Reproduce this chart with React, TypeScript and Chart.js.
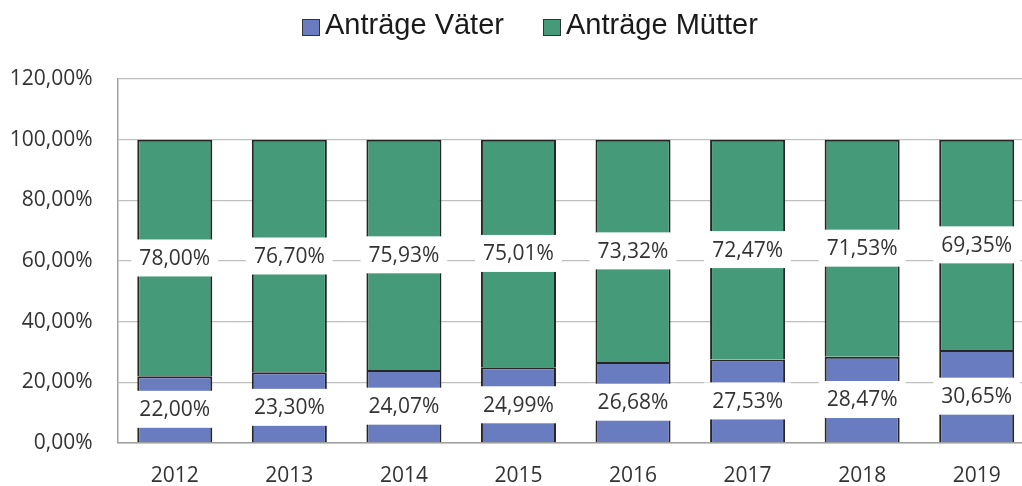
import React, { useEffect, useRef } from "react";
import { Chart, registerables } from "chart.js";

Chart.register(...registerables);

const years = ["2012", "2013", "2014", "2015", "2016", "2017", "2018", "2019"];
const vaeter = [22.0, 23.3, 24.07, 24.99, 26.68, 27.53, 28.47, 30.65];
const muetter = [78.0, 76.7, 75.93, 75.01, 73.32, 72.47, 71.53, 69.35];
const yTickValues = [0, 20, 40, 60, 80, 100, 120];
const seriesNames = ["Anträge Väter", "Anträge Mütter"];
const seriesColors = ["#6a7cc0", "#449a79"];

const fmt = (v: number) => v.toFixed(2).replace(".", ",") + "%";

const FONT = '"Open Sans", "DejaVu Sans", sans-serif';
const TEXT = "#333333";

const boxLabels = {
  id: "boxLabels",
  afterDatasetsDraw(chart: any) {
    const ctx = chart.ctx;
    ctx.save();
    ctx.font = `21px ${FONT}`;
    ctx.textAlign = "center";
    ctx.textBaseline = "middle";
    chart.data.datasets.forEach((ds: any, di: number) => {
      const meta = chart.getDatasetMeta(di);
      meta.data.forEach((bar: any, i: number) => {
        const { x, y, base } = bar.getProps(["x", "y", "base"], true);
        const cy = (y + base) / 2;
        const text = fmt(ds.data[i]);
        const w = ctx.measureText(text).width + 16;
        const h = 37;
        ctx.fillStyle = "#ffffff";
        ctx.fillRect(x - w / 2, cy - h / 2, w, h);
        ctx.fillStyle = TEXT;
        ctx.fillText(text, x, cy + 1);
      });
    });
    ctx.restore();
  },
};

export default function App() {
  const ref = useRef<HTMLCanvasElement>(null);
  useEffect(() => {
    if (!ref.current) return;
    const chart = new Chart(ref.current, {
      type: "bar",
      data: {
        labels: years,
        datasets: [
          {
            label: seriesNames[0],
            data: vaeter,
            backgroundColor: seriesColors[0],
            borderColor: "#262626",
            borderWidth: 2,
            categoryPercentage: 1,
            barPercentage: 0.655,
          },
          {
            label: seriesNames[1],
            data: muetter,
            backgroundColor: seriesColors[1],
            borderColor: "#262626",
            borderWidth: 2,
            categoryPercentage: 1,
            barPercentage: 0.655,
          },
        ],
      },
      options: {
        responsive: false,
        animation: false,
        devicePixelRatio: 1,
        layout: { padding: { top: 79, right: 6, left: 0, bottom: 0 } },
        plugins: {
          legend: { display: false },
          tooltip: { enabled: false },
        },
        scales: {
          x: {
            stacked: true,
            grid: { display: false, drawTicks: false },
            border: { display: true, color: "#a0a0a0", width: 1.5 },
            ticks: {
              color: TEXT,
              font: { family: FONT, size: 21 },
              padding: 20,
            },
            afterFit(scale: any) {
              scale.height = 43;
            },
          },
          y: {
            stacked: true,
            min: 0,
            max: 120,
            afterBuildTicks(scale: any) {
              scale.ticks = yTickValues.map((v) => ({ value: v }));
            },
            grid: { color: "#bfbfbf", lineWidth: 1.3, drawTicks: false },
            border: { display: true, color: "#a0a0a0", width: 1.5 },
            ticks: {
              color: TEXT,
              font: { family: FONT, size: 21 },
              padding: 25,
              callback: (v: any) => fmt(Number(v)),
            },
            afterFit(scale: any) {
              scale.width = 117.5;
            },
          },
        },
      },
      plugins: [boxLabels],
    });
    return () => chart.destroy();
  }, []);

  const legendFont = '"Liberation Sans", Arial, sans-serif';
  return (
    <div
      style={{
        position: "fixed",
        left: 0,
        top: 0,
        width: 1022,
        height: 486,
        overflow: "hidden",
        background: "#ffffff",
      }}
    >
      <canvas
        ref={ref}
        width={1040}
        height={486}
        style={{ position: "absolute", left: 0, top: 0, width: 1040, height: 486 }}
      />
      {[
        { box: 302, text: 325 },
        { box: 543, text: 566 },
      ].map((p, i) => (
        <React.Fragment key={i}>
          <div
            style={{
              position: "absolute",
              left: p.box,
              top: 19,
              width: 16,
              height: 15,
              background: seriesColors[i],
              border: "1px solid #333",
            }}
          />
          <div
            style={{
              position: "absolute",
              left: p.text,
              top: 10,
              fontFamily: legendFont,
              fontSize: 29,
              lineHeight: "29px",
              color: "#1a1a1a",
              whiteSpace: "nowrap",
            }}
          >
            {seriesNames[i]}
          </div>
        </React.Fragment>
      ))}
    </div>
  );
}
